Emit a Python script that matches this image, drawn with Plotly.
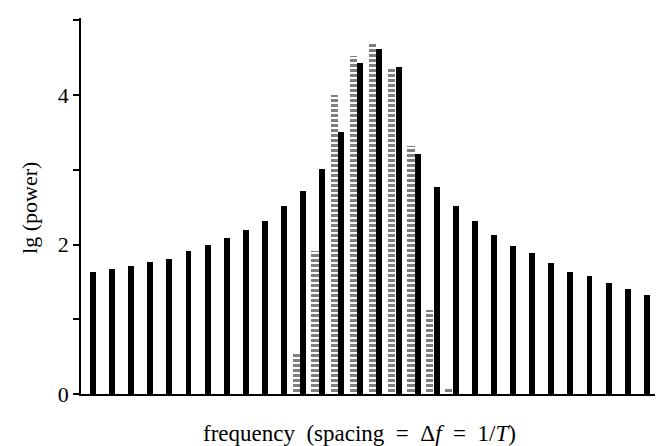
import plotly.graph_objects as go

# solid bars: frequency bin index and lg(power)
solid_bins = list(range(30))
solid_power = [1.63, 1.67, 1.71, 1.76, 1.81, 1.91, 2.00, 2.09, 2.20, 2.31,
               2.51, 2.71, 3.01, 3.51, 4.43, 4.62, 4.38, 3.21, 2.77, 2.51,
               2.32, 2.13, 1.98, 1.88, 1.75, 1.63, 1.58, 1.48, 1.41, 1.32]

# hatched bars: shifted frequencies and lg(power)
hatched_bins = [10.64, 11.63, 12.63, 13.65, 14.65, 15.65, 16.65, 17.62, 18.6]
hatched_power = [0.56, 1.91, 4.00, 4.52, 4.69, 4.35, 3.32, 1.12, 0.09]

ytick_vals = [0, 1, 2, 3, 4, 5]
ytick_text = ["0", "", "2", "", "4", ""]

FONT = "Liberation Serif, Times New Roman, serif"
SP = "\u2002"  # en space for wider math spacing

x_title = ("frequency" + SP + "(spacing" + SP + "=" + SP + "Δ<i>f</i>" + SP
           + "=" + SP + "1/<i>T</i>)")

fig = go.Figure()
fig.add_trace(go.Bar(
    x=hatched_bins, y=hatched_power, width=0.38,
    marker=dict(color="white", line=dict(width=0),
                pattern=dict(shape="-", fgcolor="black", bgcolor="white",
                             size=5, solidity=0.6)),
    showlegend=False,
))
fig.add_trace(go.Bar(
    x=solid_bins, y=solid_power, width=0.31,
    marker=dict(color="black", line=dict(width=0)),
    showlegend=False,
))

fig.update_layout(
    width=655, height=438,
    margin=dict(l=73, r=0, t=10, b=52),
    paper_bgcolor="white", plot_bgcolor="white",
    barmode="overlay", bargap=0,
    font=dict(family=FONT, size=22, color="black"),
    xaxis=dict(range=[-0.63, 29.85], showgrid=False, zeroline=False,
               showline=True, linecolor="black", linewidth=1.5,
               showticklabels=False, ticks=""),
    yaxis=dict(range=[0, 5.03], showgrid=False, zeroline=False,
               showline=True, linecolor="black", linewidth=1.5,
               tickvals=ytick_vals, ticktext=ytick_text,
               ticks="outside", ticklen=6, tickwidth=1.5, tickcolor="black",
               tickfont=dict(family=FONT, size=22)),
    annotations=[
        dict(text=x_title,
             xref="paper", yref="paper", x=0.479, y=-0.104,
             showarrow=False, font=dict(family=FONT, size=23),
             xanchor="center", yanchor="middle"),
        dict(text="lg (power)", textangle=-90,
             xref="paper", yref="paper", x=-0.0876, y=0.495,
             showarrow=False, font=dict(family=FONT, size=22),
             xanchor="center", yanchor="middle"),
    ],
)

fig.write_html("out.html")
